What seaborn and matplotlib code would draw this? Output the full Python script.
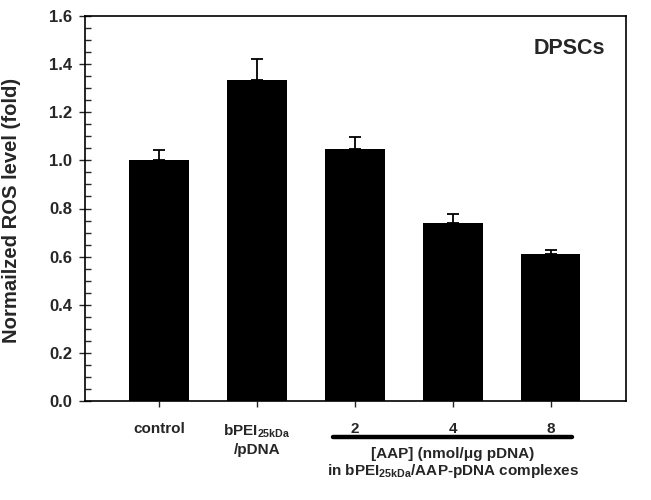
import matplotlib
matplotlib.use("Agg")
import matplotlib.pyplot as plt
import matplotlib.transforms as mtransforms
from matplotlib.ticker import MultipleLocator
import seaborn as sns
import pandas as pd

categories = ["control", "bPEI", "2", "4", "8"]
values = [1.00, 1.334, 1.047, 0.740, 0.611]
errors = [0.043, 0.086, 0.049, 0.037, 0.015]
tick_labels = ["control", r"bPEI$_{\mathrm{25kDa}}$" + "\n/pDNA", "2", "4", "8"]

sns.set_theme(style="ticks")
plt.rcParams["font.family"] = ["Liberation Sans", "DejaVu Sans"]
plt.rcParams["font.weight"] = "bold"
plt.rcParams["mathtext.fontset"] = "custom"
plt.rcParams["mathtext.rm"] = "Liberation Sans:bold"
plt.rcParams["mathtext.bf"] = "Liberation Sans:bold"

df = pd.DataFrame({"cat": categories, "val": values})

fig = plt.figure(figsize=(6.51, 5.0), dpi=100)
ax = fig.add_axes([85/651, 1-401/500, (626-85)/651, (401-16)/500])

sns.barplot(data=df, x="cat", y="val", color="black", saturation=1, width=0.61,
            edgecolor="black", linewidth=0, errorbar=None, ax=ax)
ax.errorbar(range(len(categories)), values, yerr=[[0]*len(errors), errors],
            fmt="none", ecolor="black", elinewidth=1.3, capsize=4.3, capthick=1.3)

ax.set_xlim(-0.755, 4.77)
ax.set_ylim(0, 1.6)
ax.yaxis.set_major_locator(MultipleLocator(0.2))
ax.yaxis.set_minor_locator(MultipleLocator(0.05))
ax.set_yticklabels([f"{v:.1f}" for v in ax.get_yticks()], fontsize=12, fontweight="bold")
ax.tick_params(axis="y", which="major", direction="inout", length=8, width=1, pad=5)
ax.tick_params(axis="y", which="minor", direction="in", length=4, width=1)
ax.set_xticks(range(len(categories)))
ax.set_xticklabels(tick_labels, fontsize=11, fontweight="bold", linespacing=1.3, va="top")
ax.tick_params(axis="x", which="major", direction="out", length=4, width=1, pad=11)
ax.set_xlabel("")
ax.set_ylabel("Normailzed ROS level (fold)", fontsize=14.6, fontweight="bold")
ax.yaxis.set_label_coords(-0.119, 0.496)
for s in ax.spines.values():
    s.set_visible(True)
    s.set_linewidth(1.2)
    s.set_color("black")

ax.text(0.895, 0.915, "DPSCs", transform=ax.transAxes, ha="center", va="center",
        fontsize=15.5, fontweight="bold")

trans = mtransforms.blended_transform_factory(ax.transData, ax.transAxes)
ax.plot([1.78, 4.22], [-0.0935, -0.0935], color="black", lw=3.2, transform=trans,
        clip_on=False, solid_capstyle="round")
ax.text(3.0, -0.137, "[AAP] (nmol/μg pDNA)", transform=trans, ha="center", va="center",
        fontsize=11, fontweight="bold")
ax.text(3.0, -0.182, r"in bPEI$_{\mathrm{25kDa}}$/AAP-pDNA complexes", transform=trans,
        ha="center", va="center", fontsize=11, fontweight="bold")

fig.savefig("out.png", dpi=100)
